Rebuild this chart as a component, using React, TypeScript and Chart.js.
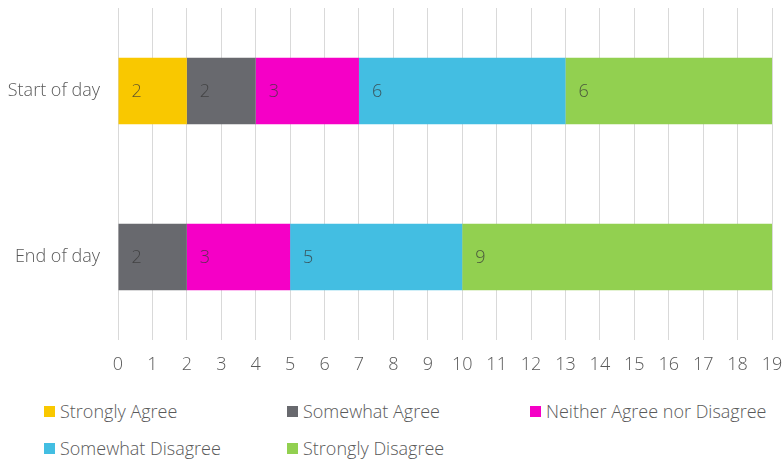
import React, { useEffect, useRef } from "react";
import { Chart, registerables } from "chart.js";

Chart.register(...registerables);

const categories = ["Start of day", "End of day"];
const seriesNames = [
  "Strongly Agree",
  "Somewhat Agree",
  "Neither Agree nor Disagree",
  "Somewhat Disagree",
  "Strongly Disagree",
];
const stronglyAgree = [2, 0];
const somewhatAgree = [2, 2];
const neitherAgree = [3, 3];
const somewhatDisagree = [6, 5];
const stronglyDisagree = [6, 9];
const seriesColors = ["#F9C800", "#68696E", "#F500C6", "#43BEE2", "#92D050"];
const xMin = 0;
const xMax = 19;

const FONT = "'Open Sans', 'Noto Sans', sans-serif";
const TEXT = "#595959";

// Writes each segment's value just inside its left edge.
const segmentLabels = {
  id: "segmentLabels",
  afterDatasetsDraw(chart: any) {
    const ctx = chart.ctx;
    ctx.save();
    ctx.font = `300 18px ${FONT}`;
    ctx.fillStyle = "rgba(55,55,55,0.78)";
    ctx.textAlign = "left";
    ctx.textBaseline = "middle";
    chart.data.datasets.forEach((ds: any, di: number) => {
      const meta = chart.getDatasetMeta(di);
      meta.data.forEach((bar: any, i: number) => {
        const v = ds.data[i];
        if (!v) return;
        const left = Math.min(bar.x, bar.base);
        ctx.fillText(String(v), left + 13, bar.y + 1);
      });
    });
    ctx.restore();
  },
};

export default function App() {
  const ref = useRef<HTMLCanvasElement | null>(null);

  useEffect(() => {
    document.body.style.margin = "0";
    const values = [stronglyAgree, somewhatAgree, neitherAgree, somewhatDisagree, stronglyDisagree];
    const chart = new Chart(ref.current as HTMLCanvasElement, {
      type: "bar",
      data: {
        labels: categories,
        datasets: seriesNames.map((name, i) => ({
          label: name,
          data: values[i],
          backgroundColor: seriesColors[i],
          borderWidth: 0,
          barPercentage: 0.5,
          categoryPercentage: 0.8,
        })),
      },
      options: {
        indexAxis: "y",
        animation: false,
        responsive: false,
        maintainAspectRatio: false,
        layout: { padding: { top: 8, right: 12, left: 0, bottom: 0 } },
        plugins: {
          legend: { display: false },
          tooltip: { enabled: false },
        },
        scales: {
          x: {
            stacked: true,
            min: xMin,
            max: xMax,
            ticks: {
              stepSize: 1,
              color: TEXT,
              padding: 14,
              font: { family: FONT, size: 18, weight: "300" as any },
            },
            grid: { color: "#D9D9D9", drawTicks: false, lineWidth: 1 },
            border: { display: false },
            afterFit: (s: any) => {
              s.height = 40;
              s.paddingLeft = 0;
              s.paddingRight = 0;
            },
          },
          y: {
            stacked: true,
            ticks: {
              color: TEXT,
              padding: 10,
              font: { family: FONT, size: 18, weight: "300" as any },
            },
            grid: { display: false },
            border: { display: false },
            afterFit: (s: any) => {
              s.width = 118;
              s.paddingTop = 0;
              s.paddingBottom = 0;
            },
          },
        },
      },
      plugins: [segmentLabels],
    });
    return () => chart.destroy();
  }, []);

  const legendPos = [
    { x: 44, y: 411 },
    { x: 287, y: 411 },
    { x: 530, y: 411 },
    { x: 44, y: 448 },
    { x: 287, y: 448 },
  ];

  return (
    <div style={{ position: "relative", width: 784, height: 461, background: "#fff", overflow: "hidden" }}>
      <canvas ref={ref} width={784} height={380} style={{ position: "absolute", left: 0, top: 0, width: 784, height: 380 }} />
      {seriesNames.map((name, i) => (
        <div
          key={name}
          style={{
            position: "absolute",
            left: legendPos[i].x,
            top: legendPos[i].y - 12,
            height: 24,
            display: "flex",
            alignItems: "center",
            fontFamily: FONT,
            fontWeight: 300,
            fontSize: 18,
            color: TEXT,
            whiteSpace: "nowrap",
          }}
        >
          <span style={{ display: "inline-block", width: 11, height: 11, background: seriesColors[i], marginRight: 5 }} />
          {name}
        </div>
      ))}
    </div>
  );
}
